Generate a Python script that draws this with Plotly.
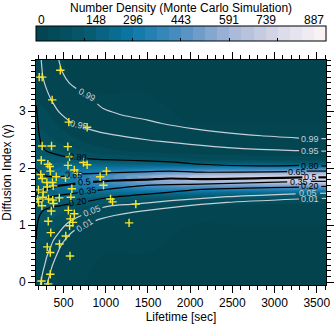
import plotly.graph_objects as go

# ---------------------------------------------------------------------------
# Data
# ---------------------------------------------------------------------------
# density grid (Monte Carlo number density)
grid_x = [173, 300, 500, 750, 1000, 1500, 2000, 2500, 3000, 3610]
grid_y = [-0.05, 0.5, 1.0, 1.3, 1.45, 1.55, 1.65, 1.75, 1.85, 1.95,
          2.05, 2.15, 2.3, 2.5, 2.8, 3.3, 3.9]
density = [
    [30, 15, 5, 0, 0, 0, 0, 0, 0, 0],
    [70, 50, 20, 5, 0, 0, 0, 0, 0, 0],
    [110, 100, 70, 35, 20, 5, 0, 0, 0, 0],
    [140, 140, 125, 95, 75, 40, 20, 12, 8, 5],
    [160, 170, 170, 160, 145, 120, 95, 80, 70, 60],
    [170, 190, 215, 225, 225, 225, 215, 205, 195, 185],
    [175, 210, 260, 300, 330, 380, 400, 410, 420, 420],
    [175, 220, 290, 350, 400, 510, 580, 620, 650, 670],
    [175, 220, 290, 360, 420, 550, 640, 700, 730, 750],
    [170, 210, 260, 310, 340, 400, 450, 480, 500, 510],
    [160, 190, 210, 220, 220, 220, 220, 220, 220, 220],
    [150, 165, 160, 140, 125, 100, 80, 70, 60, 55],
    [130, 130, 105, 70, 45, 28, 15, 10, 10, 10],
    [100, 90, 55, 28, 15, 5, 3, 2, 2, 2],
    [65, 50, 22, 8, 5, 2, 0, 0, 0, 0],
    [30, 20, 5, 0, 0, 0, 0, 0, 0, 0],
    [10, 5, 0, 0, 0, 0, 0, 0, 0, 0],
]
cbar_ticks = [0, 148, 296, 443, 591, 739, 887]

# cumulative-probability contours (None = gap for the label)
levels = ['0.99', '0.95', '0.80', '0.65', '0.5', '0.35', '0.20', '0.05', '0.01']
level_x = {
    '0.99': [443, 485, 571, 650, None, 900, 969, 1200, 1485, 1651, 2048, 2445, 2842, 3290, None, 3555, 3610],
    '0.95': [235, 255, 300, 354, 450, 590, None, 770, 969, 1485, 1651, 2445, 3238, 3290, None, 3555, 3610],
    '0.80': [176, 190, 205, 225, 243, 300, 421, 560, None, 780, 1000, 1485, 1770, 2127, 2842, 3290, None, 3555, 3610],
    '0.65': [173, 220, 300, 420, 520, None, 720, 1056, 1770, 2127, 3150, None, 3380, 3610],
    '0.5': [173, 199, 282, 421, 540, 640, None, 850, 1056, 1485, 1770, 2127, 3330, None, 3520, 3610],
    '0.35': [173, 223, 342, 571, 670, None, 900, 1485, 2127, 3150, None, 3430, 3610],
    '0.20': [173, 180, 187, 200, 223, 260, 342, 450, 560, None, 790, 1056, 1770, 2127, 3290, None, 3555, 3610],
    '0.05': [223, 250, 275, 302, 340, 381, 450, 540, 640, 710, None, 960, 1056, 1330, 1770, 2437, 3250, None, 3540, 3610],
    '0.01': [302, 330, 362, 410, 461, 520, 580, 630, None, 880, 937, 1100, 1330, 1770, 2437, 3290, None, 3560, 3610],
}
level_y = {
    '0.99': [3.9, 3.69, 3.49, 3.40, None, 3.13, 3.05, 2.93, 2.85, 2.79, 2.69, 2.62, 2.57, 2.53, None, 2.52, 2.52],
    '0.95': [3.9, 3.60, 3.38, 3.20, 2.98, 2.80, None, 2.70, 2.62, 2.50, 2.47, 2.36, 2.31, 2.31, None, 2.30, 2.30],
    '0.80': [3.1, 2.9, 2.65, 2.48, 2.39, 2.30, 2.24, 2.19, None, 2.17, 2.15, 2.13, 2.11, 2.07, 2.04, 2.05, None, 2.04, 2.04],
    '0.65': [1.98, 1.90, 1.86, 1.85, 1.86, None, 1.90, 1.92, 1.95, 1.93, 1.94, None, 1.95, 1.95],
    '0.5': [1.52, 1.58, 1.63, 1.69, 1.71, 1.73, None, 1.76, 1.78, 1.80, 1.82, 1.81, 1.84, None, 1.84, 1.84],
    '0.35': [1.33, 1.43, 1.50, 1.55, 1.57, None, 1.61, 1.70, 1.72, 1.76, None, 1.77, 1.77],
    '0.20': [0.75, 0.90, 1.0, 1.10, 1.19, 1.26, 1.31, 1.34, 1.37, None, 1.42, 1.49, 1.58, 1.63, 1.67, None, 1.68, 1.68],
    '0.05': [-0.05, 0.15, 0.30, 0.45, 0.60, 0.74, 0.88, 1.03, 1.12, 1.17, None, 1.31, 1.34, 1.37, 1.43, 1.50, 1.55, None, 1.56, 1.56],
    '0.01': [-0.05, 0.10, 0.27, 0.45, 0.62, 0.75, 0.85, 0.91, None, 1.08, 1.11, 1.17, 1.23, 1.31, 1.40, 1.46, None, 1.47, 1.47],
}
# label positions (left label with angle, right label)
label_left = {
    '0.99': (780, 3.28, 28), '0.95': (680, 2.76, 12), '0.80': (670, 2.19, 4),
    '0.65': (620, 1.88, 4), '0.5': (745, 1.75, -4), '0.35': (785, 1.60, -6),
    '0.20': (675, 1.40, -10), '0.05': (835, 1.25, -22), '0.01': (755, 1.00, -32),
}
label_right = {
    '0.99': (3422, 2.52), '0.95': (3422, 2.30), '0.80': (3422, 2.04),
    '0.65': (3265, 1.94), '0.5': (3425, 1.85), '0.35': (3290, 1.76),
    '0.20': (3422, 1.68), '0.05': (3395, 1.56), '0.01': (3425, 1.46),
}

# observed events
obs_lifetime = [211, 246, 461, 365, 562, 779, 246, 357, 550, 571, 235, 314, 336, 342,
                552, 735, 779, 1008, 229, 246, 413, 523, 627, 657, 933, 302, 368, 377,
                306, 598, 973, 201, 258, 193, 255, 321, 371, 449, 586, 1056, 1080, 202,
                243, 381, 354, 556, 627, 1356, 318, 580, 610, 1276, 571, 348, 526, 306,
                451, 342, 576, 342, 238, 317]
obs_index = [3.60, 3.60, 3.72, 3.20, 2.81, 2.72, 2.39, 2.39, 2.38, 2.20, 2.14, 2.07, 2.03,
             1.95, 2.05, 2.10, 2.06, 1.95, 1.89, 1.82, 1.85, 1.83, 1.97, 1.91, 1.85, 1.75,
             1.75, 1.69, 1.67, 1.64, 1.70, 1.62, 1.58, 1.46, 1.49, 1.46, 1.44, 1.48, 1.49,
             1.46, 1.41, 1.41, 1.34, 1.38, 1.25, 1.26, 1.20, 1.37, 1.07, 1.11, 1.05, 1.04,
             0.99, 0.87, 0.81, 0.62, 0.67, 0.52, 0.46, 0.14, 0.02, -0.03]

# ---------------------------------------------------------------------------
FONT = 'Liberation Sans, Arial, sans-serif'
GRAY = '#c6ced6'
light = {'0.99', '0.95', '0.05', '0.01'}

colorscale = [[0.0, '#02434e'], [0.17, '#07596b'], [0.33, '#0a78a8'],
              [0.5, '#4e8fc2'], [0.67, '#a4b6d6'], [0.83, '#d8d8e8'], [1.0, '#fcf6f8']]

# plot area: 36..326 px wide, 60..285 px high
PLOT_H = 225
CB_Y = 1 + 15 / PLOT_H

fig = go.Figure()

fig.add_trace(go.Contour(
    x=grid_x, y=grid_y, z=density,
    colorscale=colorscale, zmin=0, zmax=887,
    contours=dict(start=0, end=887, size=887 / 24, coloring='fill', showlines=False),
    line=dict(width=0, smoothing=1.3),
    colorbar=dict(orientation='h', x=0.5, xanchor='center', y=CB_Y, yanchor='bottom',
                  len=1, lenmode='fraction', thickness=15, xpad=0, ypad=0,
                  outlinecolor='black', outlinewidth=1,
                  tickvals=cbar_ticks, ticks='inside', ticklen=3, tickcolor='black',
                  showticklabels=False),
    hoverinfo='skip',
))

for lev in levels:
    col = GRAY if lev in light else 'black'
    fig.add_trace(go.Scatter(
        x=level_x[lev], y=level_y[lev], mode='lines',
        line=dict(color=col, width=2.2 if lev == '0.5' else 1.2, shape='spline', smoothing=0.6),
        connectgaps=False, showlegend=False, hoverinfo='skip'))
    lx, ly, ang = label_left[lev]
    fig.add_annotation(x=lx, y=ly, text=lev, showarrow=False, textangle=ang,
                       font=dict(family=FONT, size=9, color=col))
    rx, ry = label_right[lev]
    fig.add_annotation(x=rx, y=ry, text=lev, showarrow=False,
                       font=dict(family=FONT, size=9, color=col))

fig.add_trace(go.Scatter(
    x=obs_lifetime, y=obs_index, mode='markers',
    marker=dict(symbol='cross-thin', size=6, line=dict(color='#f5e62a', width=1.4)),
    showlegend=False, hoverinfo='skip'))

# colour bar labels and title
for v in cbar_ticks:
    fig.add_annotation(x=v / 887, y=CB_Y + 15 / PLOT_H, xref='paper', yref='paper',
                       text=str(v), showarrow=False, yanchor='bottom', yshift=1,
                       font=dict(family=FONT, size=12, color='black'))
fig.add_annotation(x=0.5, y=1 + 60 / PLOT_H, xref='paper', yref='paper', yanchor='top',
                   text='Number Density (Monte Carlo Simulation)', showarrow=False,
                   yshift=1, font=dict(family=FONT, size=12, color='black'))

axis_common = dict(showline=True, linecolor='black', linewidth=1, mirror='allticks',
                   ticks='outside', ticklen=7, tickcolor='black', showgrid=False,
                   zeroline=False, tickfont=dict(family=FONT, size=12, color='black'))
fig.update_xaxes(range=[173, 3610], tick0=500, dtick=500,
                 minor=dict(dtick=100, ticks='outside', ticklen=4, tickcolor='black'),
                 title=dict(text='Lifetime [sec]', font=dict(family=FONT, size=12), standoff=8),
                 **axis_common)
fig.update_yaxes(range=[-0.05, 3.9], tick0=0, dtick=1,
                 minor=dict(dtick=0.1, ticks='outside', ticklen=4, tickcolor='black'),
                 title=dict(text='Diffusion Index (γ)', font=dict(family=FONT, size=12), standoff=6),
                 **axis_common)

fig.update_layout(
    width=334, height=330,
    margin=dict(l=36, r=8, t=60, b=45, autoexpand=False),
    paper_bgcolor='white', plot_bgcolor='white',
    font=dict(family=FONT, size=12, color='black'),
    showlegend=False,
)

# the page body has a default 8px margin; remove it so the figure fills the window
fig.write_html("out.html", config={'displayModeBar': False},
               post_script="document.body.style.margin='0';")
